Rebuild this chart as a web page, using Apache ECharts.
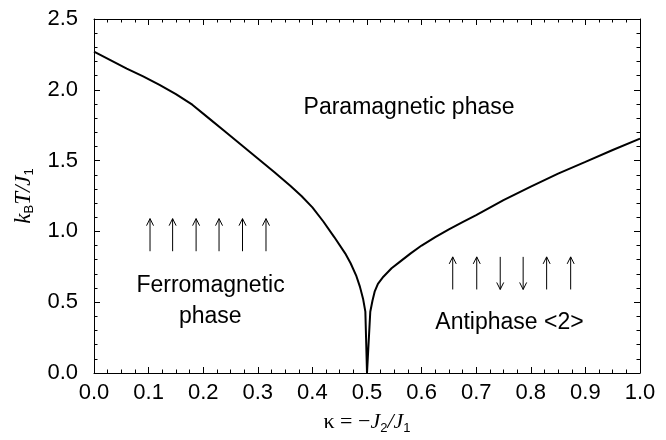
<!DOCTYPE html>
<html>
<head>
<meta charset="utf-8">
<script src="https://cdn.jsdelivr.net/npm/echarts@6/dist/echarts.min.js"></script>
<style>html,body{margin:0;padding:0;background:#fff;}#c{width:666px;height:440px;}</style>
</head>
<body>
<div id="c"></div>
<script>
// Phase boundary kB*T/J1 versus kappa
var kappa = [0, 0.03, 0.06, 0.09, 0.12, 0.15, 0.18, 0.21, 0.24, 0.27, 0.3, 0.33, 0.36, 0.38, 0.4, 0.42, 0.44, 0.46, 0.47, 0.48, 0.487, 0.493, 0.497, 0.5,
             0.506, 0.51, 0.514, 0.52, 0.53, 0.545, 0.56, 0.58, 0.6, 0.625, 0.65, 0.675, 0.7, 0.75, 0.8, 0.85, 0.9, 0.95, 1.0];
var tc = [2.269, 2.21, 2.15, 2.095, 2.035, 1.97, 1.895, 1.80, 1.705, 1.61, 1.515, 1.42, 1.32, 1.25, 1.17, 1.07, 0.96, 0.845, 0.775, 0.69, 0.61, 0.52, 0.433, 0,
          0.433, 0.51, 0.574, 0.63, 0.68, 0.74, 0.785, 0.845, 0.90, 0.96, 1.015, 1.065, 1.115, 1.221, 1.316, 1.408, 1.491, 1.575, 1.655];

// Spin arrows: x position, lower / upper end, direction (1 up, -1 down)
var arrowX = [0.1026, 0.144, 0.187, 0.229, 0.272, 0.315, 0.657, 0.701, 0.744, 0.786, 0.829, 0.873];
var arrowLow = [0.86, 0.86, 0.86, 0.86, 0.86, 0.86, 0.59, 0.59, 0.59, 0.59, 0.59, 0.59];
var arrowHigh = [1.09, 1.09, 1.09, 1.09, 1.09, 1.09, 0.82, 0.82, 0.82, 0.82, 0.82, 0.82];
var arrowDir = [1, 1, 1, 1, 1, 1, 1, 1, -1, -1, 1, 1];

// Phase labels
var phaseText = ['Paramagnetic phase', 'Ferromagnetic', 'phase', 'Antiphase <2>'];
var phaseX = [0.577, 0.2134, 0.213, 0.761];
var phaseY = [1.875, 0.615, 0.40, 0.358];

var xTicks = [0, 1, 0.1];
var yTicks = [0, 2.5, 0.5];

var FONT = '"Liberation Sans", Arial, Helvetica, sans-serif';
var SERIF = '"Liberation Serif", "Times New Roman", serif';

var chart = echarts.init(document.getElementById('c'), null, {renderer: 'canvas'});

var lineData = kappa.map(function (k, i) { return [k, tc[i]]; });
var arrowData = arrowX.map(function (x, i) { return [x, arrowLow[i], arrowHigh[i], arrowDir[i]]; });
var textData = phaseText.map(function (t, i) { return [phaseX[i], phaseY[i], i]; });

function axisCommon(showLabel) {
  return {
    axisLine: {show: true, onZero: false, lineStyle: {color: '#000', width: 1}},
    axisTick: {show: true, inside: true, length: 6, lineStyle: {color: '#000', width: 1}},
    minorTick: {show: true, length: 3.5, lineStyle: {color: '#000', width: 1}},
    splitLine: {show: false},
    axisLabel: {show: showLabel, color: '#000', fontFamily: FONT, fontSize: 22}
  };
}

var xBottom = Object.assign(axisCommon(true), {
  type: 'value', min: xTicks[0], max: xTicks[1], interval: xTicks[2], position: 'bottom',
  name: '{k|κ}{t| = −}{i|J}{s|2}{i|/J}{s|1}',
  nameLocation: 'middle', nameGap: 37,
  nameTextStyle: {
    rich: {
      k: {fontFamily: SERIF, fontSize: 22, color: '#000'},
      t: {fontFamily: SERIF, fontSize: 22, color: '#000'},
      i: {fontFamily: SERIF, fontSize: 22, fontStyle: 'italic', color: '#000'},
      s: {fontFamily: FONT, fontSize: 13, color: '#000', padding: [12, 0, 0, 0]}
    }
  }
});
xBottom.minorTick.splitNumber = 4;
xBottom.axisLabel.margin = 9;

var xTop = Object.assign(axisCommon(false), {
  type: 'value', min: xTicks[0], max: xTicks[1], interval: xTicks[2], position: 'top'
});
xTop.minorTick.splitNumber = 4;

var yLeft = Object.assign(axisCommon(true), {
  type: 'value', min: yTicks[0], max: yTicks[1], interval: yTicks[2], position: 'left',
  name: '{i|k}{s|B}{i|T/J}{s|1}',
  nameLocation: 'middle', nameGap: 58, nameRotate: 90,
  nameTextStyle: {
    rich: {
      i: {fontFamily: SERIF, fontSize: 23, fontStyle: 'italic', color: '#000'},
      s: {fontFamily: FONT, fontSize: 13, color: '#000', padding: [12, 0, 0, 0]}
    }
  }
});
yLeft.minorTick.splitNumber = 5;
yLeft.axisLabel.margin = 16;
yLeft.axisLabel.formatter = function (v) { return v.toFixed(1); };
xBottom.axisLabel.formatter = function (v) { return v.toFixed(1); };

var yRight = Object.assign(axisCommon(false), {
  type: 'value', min: yTicks[0], max: yTicks[1], interval: yTicks[2], position: 'right'
});
yRight.minorTick.splitNumber = 5;

chart.setOption({
  animation: false,
  backgroundColor: '#fff',
  grid: {left: 94, right: 26, top: 19, bottom: 65, containLabel: false},
  xAxis: [xBottom, xTop],
  yAxis: [yLeft, yRight],
  series: [
    {
      type: 'line', data: lineData, xAxisIndex: 0, yAxisIndex: 0,
      showSymbol: false, symbol: 'none', smooth: false,
      lineStyle: {color: '#000', width: 2}
    },
    {
      type: 'custom', xAxisIndex: 0, yAxisIndex: 0, data: arrowData, silent: true,
      renderItem: function (params, api) {
        var x = api.value(0), lo = api.value(1), hi = api.value(2), d = api.value(3);
        var pLo = api.coord([x, lo]);
        var pHi = api.coord([x, hi]);
        var tip = d > 0 ? pHi : pLo;
        var s = d > 0 ? 1 : -1;
        return {
          type: 'group',
          children: [
            {type: 'line', shape: {x1: pLo[0], y1: pLo[1], x2: pHi[0], y2: pHi[1]},
             style: {stroke: '#000', lineWidth: 1}},
            {type: 'polyline', shape: {points: [[tip[0] - 3.5, tip[1] + s * 7], [tip[0], tip[1]], [tip[0] + 3.5, tip[1] + s * 7]]},
             style: {stroke: '#000', lineWidth: 1, fill: null}}
          ]
        };
      }
    },
    {
      type: 'custom', xAxisIndex: 0, yAxisIndex: 0, data: textData, silent: true,
      renderItem: function (params, api) {
        var p = api.coord([api.value(0), api.value(1)]);
        return {
          type: 'text', x: p[0], y: p[1],
          style: {text: phaseText[api.value(2)], fill: '#000', font: '23px ' + FONT,
                  align: 'center', verticalAlign: 'middle'}
        };
      }
    }
  ]
});
</script>
</body>
</html>
